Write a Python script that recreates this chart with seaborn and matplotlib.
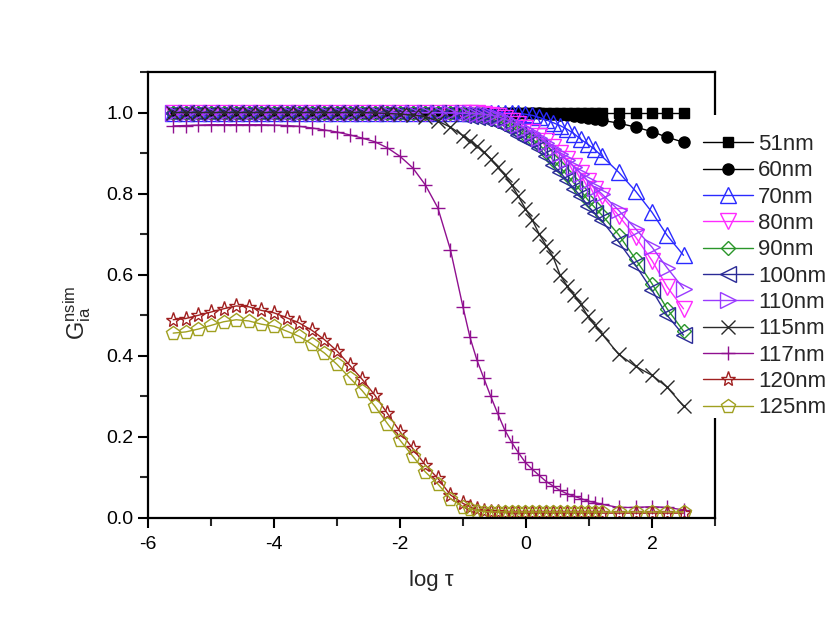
import matplotlib

matplotlib.use("Agg")
import matplotlib.pyplot as plt
from matplotlib.patches import Rectangle
from matplotlib.ticker import FormatStrFormatter, MultipleLocator
import seaborn as sns

# log(tau) grid shared by every series
LOG_TAU = [-5.6, -5.4, -5.2, -5.0, -4.8, -4.6, -4.4, -4.2, -4.0, -3.8, -3.6, -3.4,
           -3.2, -3.0, -2.8, -2.6, -2.4, -2.2, -2.0, -1.8, -1.6, -1.4, -1.2,
           -1.0, -0.89, -0.78, -0.67, -0.56, -0.45, -0.34, -0.23, -0.12, -0.01, 0.10,
           0.21, 0.32, 0.43, 0.54, 0.65, 0.76, 0.87, 0.98, 1.09, 1.20,
           1.47, 1.74, 2.00, 2.24, 2.50]

G_51NM = [1.0, 1.0, 1.0, 1.0, 1.0, 1.0, 1.0, 1.0, 1.0, 1.0, 1.0, 1.0,
          1.0, 1.0, 1.0, 1.0, 1.0, 1.0, 1.0, 1.0, 1.0, 1.0, 1.0,
          1.0, 1.0, 1.0, 1.0, 1.0, 1.0, 1.0, 1.0, 1.0, 1.0, 1.0,
          1.0, 1.0, 1.0, 1.0, 1.0, 1.0, 1.0, 1.0, 1.0, 1.0,
          1.0, 1.0, 1.0, 1.0, 1.0]
G_60NM = [1.0, 1.0, 1.0, 1.0, 1.0, 1.0, 1.0, 1.0, 1.0, 1.0, 1.0, 1.0,
          1.0, 1.0, 1.0, 1.0, 1.0, 1.0, 1.0, 1.0, 1.0, 1.0, 1.0,
          1.0, 1.0, 1.0, 1.0, 1.0, 1.0, 1.0, 1.0, 0.999, 0.999, 0.998,
          0.998, 0.997, 0.996, 0.995, 0.993, 0.991, 0.989, 0.987, 0.984, 0.981,
          0.974, 0.964, 0.953, 0.939, 0.927]
G_70NM = [1.0, 1.0, 1.0, 1.0, 1.0, 1.0, 1.0, 1.0, 1.0, 1.0, 1.0, 1.0,
          1.0, 1.0, 1.0, 1.0, 1.0, 1.0, 1.0, 1.0, 1.0, 1.0, 1.0,
          1.0, 1.0, 1.0, 1.0, 1.0, 1.0, 1.0, 0.999, 0.998, 0.996, 0.993,
          0.988, 0.982, 0.975, 0.968, 0.959, 0.948, 0.934, 0.922, 0.909, 0.893,
          0.853, 0.806, 0.754, 0.697, 0.648]
G_80NM = [1.0, 1.0, 1.0, 1.0, 1.0, 1.0, 1.0, 1.0, 1.0, 1.0, 1.0, 1.0,
          1.0, 1.0, 1.0, 1.0, 1.0, 1.0, 1.0, 1.0, 1.0, 1.0, 1.0,
          0.999, 0.999, 0.998, 0.997, 0.995, 0.991, 0.986, 0.979, 0.972, 0.963, 0.953,
          0.942, 0.929, 0.915, 0.900, 0.885, 0.868, 0.850, 0.830, 0.812, 0.795,
          0.746, 0.693, 0.635, 0.570, 0.516]
G_90NM = [1.0, 1.0, 1.0, 1.0, 1.0, 1.0, 1.0, 1.0, 1.0, 1.0, 1.0, 1.0,
          1.0, 1.0, 1.0, 1.0, 1.0, 1.0, 1.0, 1.0, 1.0, 0.999, 0.998,
          0.997, 0.995, 0.992, 0.989, 0.985, 0.979, 0.972, 0.964, 0.954, 0.944, 0.935,
          0.921, 0.903, 0.883, 0.865, 0.846, 0.826, 0.807, 0.785, 0.766, 0.748,
          0.699, 0.638, 0.578, 0.516, 0.461]
G_100NM = [1.0, 1.0, 1.0, 1.0, 1.0, 1.0, 1.0, 1.0, 1.0, 1.0, 1.0, 1.0,
           1.0, 1.0, 1.0, 1.0, 1.0, 1.0, 1.0, 1.0, 1.0, 0.999, 0.998,
           0.995, 0.992, 0.989, 0.986, 0.981, 0.974, 0.966, 0.957, 0.945, 0.935, 0.928,
           0.912, 0.892, 0.870, 0.853, 0.833, 0.812, 0.794, 0.770, 0.752, 0.734,
           0.681, 0.623, 0.562, 0.500, 0.451]
G_110NM = [1.0, 1.0, 1.0, 1.0, 1.0, 1.0, 1.0, 1.0, 1.0, 1.0, 1.0, 1.0,
           1.0, 1.0, 1.0, 1.0, 1.0, 1.0, 1.0, 1.0, 1.0, 1.0, 0.999,
           0.998, 0.998, 0.997, 0.996, 0.994, 0.990, 0.984, 0.977, 0.970, 0.960, 0.950,
           0.938, 0.925, 0.911, 0.897, 0.882, 0.866, 0.849, 0.832, 0.815, 0.800,
           0.759, 0.713, 0.668, 0.617, 0.566]
G_115NM = [1.0, 1.0, 1.0, 1.0, 1.0, 1.0, 1.0, 1.0, 1.0, 1.0, 1.0, 1.0,
           1.0, 1.0, 1.0, 1.0, 0.999, 0.998, 0.996, 0.994, 0.990, 0.979, 0.964,
           0.943, 0.931, 0.917, 0.902, 0.885, 0.866, 0.846, 0.822, 0.793, 0.763, 0.735,
           0.700, 0.672, 0.644, 0.600, 0.573, 0.550, 0.527, 0.498, 0.476, 0.455,
           0.404, 0.374, 0.352, 0.323, 0.276]
G_117NM = [0.967, 0.968, 0.969, 0.970, 0.970, 0.970, 0.970, 0.970, 0.969, 0.968, 0.966, 0.962,
           0.957, 0.952, 0.945, 0.937, 0.928, 0.913, 0.892, 0.864, 0.822, 0.765, 0.662,
           0.520, 0.446, 0.390, 0.345, 0.300, 0.258, 0.218, 0.187, 0.161, 0.137, 0.120,
           0.105, 0.090, 0.079, 0.068, 0.060, 0.054, 0.048, 0.042, 0.038, 0.034,
           0.026, 0.026, 0.028, 0.026, 0.020]
G_120NM = [0.489, 0.492, 0.500, 0.508, 0.516, 0.523, 0.521, 0.512, 0.506, 0.494, 0.481, 0.463,
           0.440, 0.412, 0.377, 0.342, 0.303, 0.258, 0.213, 0.172, 0.131, 0.098, 0.057,
           0.036, 0.028, 0.021, 0.017, 0.015, 0.014, 0.013, 0.013, 0.012, 0.012, 0.012,
           0.012, 0.012, 0.012, 0.012, 0.012, 0.012, 0.012, 0.012, 0.012, 0.012,
           0.012, 0.012, 0.012, 0.012, 0.012]
G_125NM = [0.456, 0.459, 0.466, 0.475, 0.484, 0.489, 0.486, 0.478, 0.473, 0.461, 0.448, 0.429,
           0.407, 0.379, 0.346, 0.314, 0.276, 0.233, 0.192, 0.153, 0.114, 0.084, 0.048,
           0.028, 0.022, 0.018, 0.016, 0.015, 0.015, 0.015, 0.015, 0.015, 0.015, 0.015,
           0.015, 0.015, 0.015, 0.015, 0.015, 0.015, 0.015, 0.015, 0.015, 0.015,
           0.015, 0.015, 0.015, 0.015, 0.015]

LABELS = ["51nm", "60nm", "70nm", "80nm", "90nm", "100nm", "110nm",
          "115nm", "117nm", "120nm", "125nm"]
SERIES = [G_51NM, G_60NM, G_70NM, G_80NM, G_90NM, G_100NM, G_110NM,
          G_115NM, G_117NM, G_120NM, G_125NM]

# label: (colour, marker, marker size, filled)
STYLES = {
    "51nm": ("#000000", "s", 7, True),
    "60nm": ("#000000", "o", 8, True),
    "70nm": ("#2a2aff", "^", 11, False),
    "80nm": ("#ff2aff", "v", 11, False),
    "90nm": ("#2a962a", "D", 7, False),
    "100nm": ("#2a2a96", "<", 11, False),
    "110nm": ("#9a3aff", ">", 11, False),
    "115nm": ("#2a2a2a", "x", 10, False),
    "117nm": ("#901090", "+", 10, False),
    "120nm": ("#a02020", "*", 11, False),
    "125nm": ("#a0a020", "p", 10, False),
}


def main() -> None:
    sns.set_style("ticks")
    plt.rcParams["font.family"] = ["Liberation Sans", "DejaVu Sans"]
    plt.rcParams["mathtext.default"] = "regular"
    plt.rcParams["axes.unicode_minus"] = False

    fig = plt.figure(figsize=(8.3, 6.23), dpi=100)
    ax = fig.add_axes([148 / 830, 105 / 623, 567 / 830, 446 / 623])

    for label, values in zip(LABELS, SERIES):
        color, marker, size, filled = STYLES[label]
        sns.lineplot(
            x=LOG_TAU,
            y=values,
            ax=ax,
            color=color,
            linewidth=1.0,
            marker=marker,
            markersize=size,
            markerfacecolor=color if filled else "none",
            markeredgecolor=color,
            markeredgewidth=1.0,
            label=label,
            sort=False,
            errorbar=None,
        )

    if ax.get_legend() is not None:
        ax.get_legend().remove()

    ax.set_xlim(-6, 3)
    ax.set_ylim(0, 1.1)
    ax.set_xticks([-6, -4, -2, 0, 2])
    ax.xaxis.set_minor_locator(MultipleLocator(1))
    ax.set_yticks([0.0, 0.2, 0.4, 0.6, 0.8, 1.0])
    ax.yaxis.set_minor_locator(MultipleLocator(0.1))
    ax.yaxis.set_major_formatter(FormatStrFormatter("%.1f"))
    ax.tick_params(which="major", direction="out", length=7, width=1.5, colors="black")
    ax.tick_params(which="minor", direction="out", length=6, width=1.5)
    ax.tick_params(axis="x", which="major", pad=6)
    for tick_label in ax.get_xticklabels() + ax.get_yticklabels():
        tick_label.set_fontsize(14)
    for spine in ax.spines.values():
        spine.set_linewidth(1.6)
        spine.set_color("black")

    ax.set_xlabel("log τ", fontsize=16, labelpad=12)
    ax.set_ylabel(r"$G_{ia}^{nsim}$", fontsize=17)
    ax.yaxis.set_label_coords(-0.097, 0.46)

    # white patch breaking the right spine behind the legend
    fig.add_artist(Rectangle((709 / 830, 1 - 418 / 623), 12 / 830, 303 / 623,
                             transform=fig.transFigure, facecolor="white",
                             edgecolor="none", zorder=3))

    handles, labels = ax.get_legend_handles_labels()
    fig.legend(
        handles,
        labels,
        loc="upper left",
        bbox_to_anchor=(703 / 830, 1 - 134 / 623),
        frameon=False,
        fontsize=16,
        handlelength=2.25,
        handletextpad=0.22,
        labelspacing=0.24,
        borderpad=0,
        borderaxespad=0,
        numpoints=1,
    ).set_zorder(5)

    fig.savefig("out.png", dpi=100)
    plt.close(fig)


if __name__ == "__main__":
    main()
